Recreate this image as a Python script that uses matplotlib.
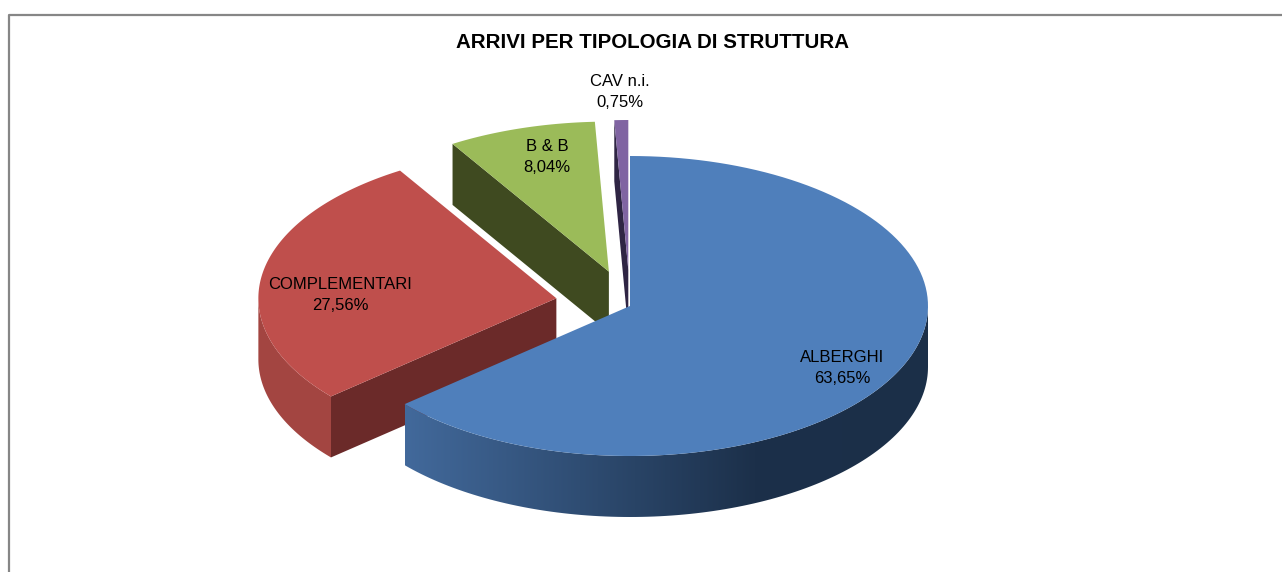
import numpy as np
import matplotlib
matplotlib.use('Agg')
import matplotlib.pyplot as plt
from matplotlib.patches import Polygon
from matplotlib.colors import LinearSegmentedColormap

plt.rcParams['font.family'] = ['Liberation Sans', 'DejaVu Sans']

title = 'ARRIVI PER TIPOLOGIA DI STRUTTURA'
categories = ['ALBERGHI', 'COMPLEMENTARI', 'B & B', 'CAV n.i.']
values = [63.65, 27.56, 8.04, 0.75]
top_colors = ['#4f7fbb', '#bf4f4c', '#9bbb59', '#8064a2']
cut_colors = ['#2f4d73', '#6b2a29', '#3f4a20', '#2f2544']
label_xy = [(842, 368), (340, 295), (547, 157), (620, 92)]

cx, cy = 630, 306
rx, ry = 298, 150
depth = 61
explode = [0, 0.25, 0.24, 0.24]
lift = [0, 2, 0, 0]


def arc(x0, y0, a, b):
    t = np.radians(np.linspace(a, b, 120))
    return np.column_stack([x0 + rx * np.cos(t), y0 - ry * np.sin(t)])


def side(pts):
    # extrude a line of the top face downwards
    return np.vstack([pts, (pts + [0, depth])[::-1]])


fig = plt.figure(figsize=(12.82, 5.72), dpi=100)
ax = fig.add_axes([0, 0, 1, 1])

# frame of the chart area, it runs off the picture right and bottom
ax.plot([8.5, 8.5, 1290], [580, 14.5, 14.5], color='#868686', lw=1.6, zorder=1)

fracs = np.array(values) / sum(values) * 360
ends = 90 - np.cumsum(fracs)
starts = ends + fracs

wedges = []
for i in range(len(values)):
    mid = np.radians((starts[i] + ends[i]) / 2)
    x0 = cx + rx * explode[i] * np.cos(mid)
    y0 = cy - ry * explode[i] * np.sin(mid) - lift[i]
    wedges.append((x0, y0, starts[i], ends[i]))

# back slices first, blue covers them
for i, z in [(1, 3), (2, 4), (3, 5)]:
    x0, y0, a, b = wedges[i]
    outer = arc(x0, y0, a, b)
    if i == 1:
        # red also shows its outer rim on the left
        rim = arc(x0, y0, -180, a)
        ax.add_patch(Polygon(side(rim), fc='#a34541', ec='none', zorder=z))
    cut = np.array([outer[0], [x0, y0]])
    ax.add_patch(Polygon(side(cut), fc=cut_colors[i], ec='none', zorder=z))
    ax.add_patch(Polygon(np.vstack([[x0, y0], outer]), fc=top_colors[i], ec='none', zorder=z + 0.5))

# blue slice: rim with a gradient, then top face
x0, y0, a, b = wedges[0]
rim = arc(x0, y0, 0, b)
rim_cmap = LinearSegmentedColormap.from_list('rim', ['#42699b', '#2f4d73', '#1c304a', '#1b2f48'])
grad = np.linspace(0, 1, 256).reshape(1, -1)
img = ax.imshow(grad, cmap=rim_cmap, extent=[405, 930, 530, 290], aspect='auto', zorder=6)
clip = Polygon(side(rim), transform=ax.transData, fc='none', ec='none')
ax.add_patch(clip)
img.set_clip_path(clip)
ax.add_patch(Polygon(np.vstack([[x0, y0], arc(x0, y0, a, b)]), fc=top_colors[0], ec='none', zorder=7))

for name, v, (lx, ly) in zip(categories, values, label_xy):
    txt = name + '\n' + f'{v:.2f}'.replace('.', ',') + '%'
    ax.text(lx, ly, txt, ha='center', va='center', fontsize=12, linespacing=1.55,
            color='black', zorder=10)

ax.text(652, 42, title, ha='center', va='center', fontsize=14.8, fontweight='bold',
        color='black', zorder=10)

ax.set_xlim(0, 1282)
ax.set_ylim(572, 0)
ax.axis('off')
fig.savefig('out.png', dpi=100, facecolor='white')
